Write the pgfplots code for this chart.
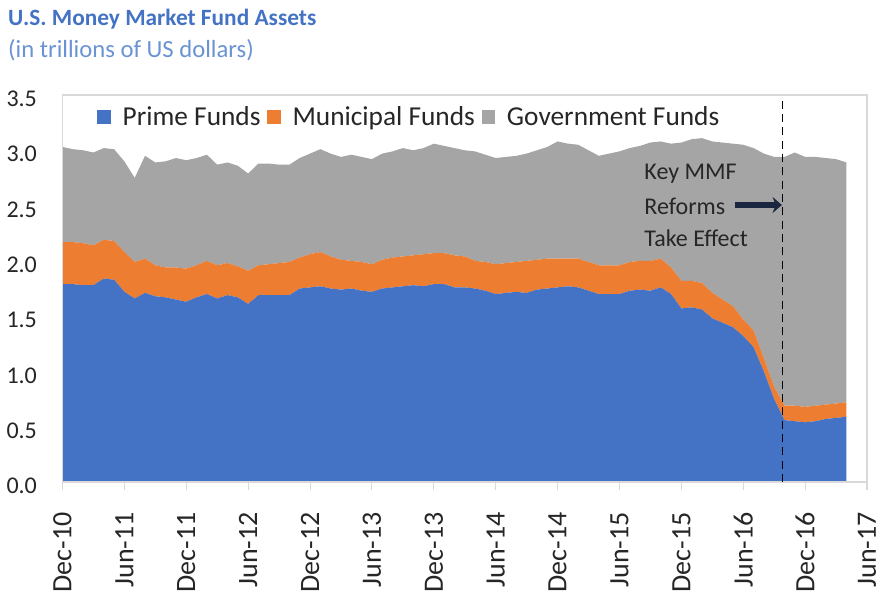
\documentclass[border=0pt]{standalone}
\usepackage{pgfplots}
\pgfplotsset{compat=1.18}
\usetikzlibrary{arrows.meta}
\usepackage{fontspec}
\setmainfont{Carlito}
\definecolor{primeblue}{HTML}{4472C4}
\definecolor{muniorange}{HTML}{ED7D31}
\definecolor{govgray}{HTML}{A5A5A5}
\definecolor{titleblue}{HTML}{4472C4}
\definecolor{subblue}{HTML}{6A93D4}
\definecolor{frame}{HTML}{D9D9D9}
\definecolor{txt}{HTML}{262626}
\definecolor{arrowc}{HTML}{1B2740}
\begin{document}
\begin{tikzpicture}
\path[use as bounding box] (-46.875pt,-84pt) rectangle (613.875pt,361.5pt);
\node[anchor=base west, inner sep=0pt, text=titleblue, font=\bfseries\fontsize{17.5}{20}\selectfont] at (-40.9pt,342pt) {U.S. Money Market Fund Assets};
\node[anchor=base west, inner sep=0pt, text=subblue, font=\fontsize{18.5}{20}\selectfont] at (-40.9pt,318pt) {(in trillions of US dollars)};
\begin{axis}[
  width=603.375pt, height=290.25pt, scale only axis,
  xmin=0, xmax=78, ymin=0, ymax=3.5,
  stack plots=y, area style,
  axis line style={draw=frame, line width=0.8pt},
  xtick={0,6,...,78},
  xticklabels={Dec-10,Jun-11,Dec-11,Jun-12,Dec-12,Jun-13,Dec-13,Jun-14,Dec-14,Jun-15,Dec-15,Jun-16,Dec-16,Jun-17},
  xtick pos=bottom, tick align=outside,
  major tick length=6pt,
  x tick style={draw=frame, line width=0.8pt},
  ytick={0,0.5,...,3.5},
  y tick style={draw=none},
  /pgf/number format/.cd, fixed, fixed zerofill, precision=1, assume math mode=true,
  /pgfplots/.cd,
  yticklabel style={text=txt, inner sep=0pt, anchor=east, xshift=-13pt, yshift=-3pt, font=\fontsize{18}{18}\selectfont},
  xticklabel style={text=txt, inner sep=0pt, rotate=90, anchor=east, xshift=-16.5pt, font=\fontsize{21}{21}\selectfont},
  legend style={at={(rel axis cs:0.043,0.943)}, anchor=west, draw=none, fill=none, inner sep=0pt,
    font=\fontsize{20.5}{21}\selectfont, text=txt,
    /tikz/every odd column/.append style={column sep=7pt},
    /tikz/every even column/.append style={column sep=3pt}},
  legend columns=-1,
  legend image code/.code={\fill[#1] (0pt,-5pt) rectangle (10pt,5pt);},
  clip=false,
]
\addplot[fill=primeblue, draw=none] table[x=m, y=prime] {
m prime
0 1.79
1 1.79
2 1.78
3 1.78
4 1.84
5 1.83
6 1.72
7 1.66
8 1.71
9 1.68
10 1.67
11 1.65
12 1.63
13 1.67
14 1.70
15 1.66
16 1.69
17 1.67
18 1.61
19 1.69
20 1.69
21 1.69
22 1.69
23 1.75
24 1.76
25 1.77
26 1.75
27 1.74
28 1.75
29 1.73
30 1.72
31 1.75
32 1.76
33 1.77
34 1.78
35 1.77
36 1.79
37 1.79
38 1.76
39 1.76
40 1.75
41 1.73
42 1.70
43 1.71
44 1.72
45 1.71
46 1.74
47 1.75
48 1.76
49 1.77
50 1.76
51 1.73
52 1.70
53 1.70
54 1.70
55 1.73
56 1.74
57 1.73
58 1.76
59 1.70
60 1.57
61 1.58
62 1.56
63 1.48
64 1.44
65 1.40
66 1.32
67 1.22
68 1.00
69 0.75
70 0.56
71 0.55
72 0.54
73 0.55
74 0.57
75 0.58
76 0.59
} \closedcycle;
\addlegendentry{Prime Funds}
\addplot[fill=muniorange, draw=none] table[x=m, y=muni] {
m muni
0 0.38
1 0.38
2 0.38
3 0.36
4 0.35
5 0.35
6 0.36
7 0.33
8 0.31
9 0.28
10 0.27
11 0.29
12 0.30
13 0.29
14 0.30
15 0.30
16 0.29
17 0.28
18 0.30
19 0.27
20 0.28
21 0.29
22 0.30
23 0.28
24 0.30
25 0.31
26 0.29
27 0.27
28 0.25
29 0.26
30 0.25
31 0.26
32 0.27
33 0.27
34 0.27
35 0.29
36 0.28
37 0.28
38 0.29
39 0.28
40 0.25
41 0.26
42 0.27
43 0.27
44 0.27
45 0.29
46 0.27
47 0.27
48 0.26
49 0.25
50 0.26
51 0.26
52 0.26
53 0.26
54 0.26
55 0.26
56 0.26
57 0.27
58 0.26
59 0.24
60 0.25
61 0.24
62 0.24
63 0.23
64 0.21
65 0.19
66 0.15
67 0.15
68 0.12
69 0.11
70 0.13
71 0.14
72 0.14
73 0.14
74 0.13
75 0.13
76 0.13
} \closedcycle;
\addlegendentry{Municipal Funds}
\addplot[fill=govgray, draw=none] table[x=m, y=gov] {
m gov
0 0.86
1 0.84
2 0.84
3 0.84
4 0.83
5 0.83
6 0.82
7 0.76
8 0.93
9 0.93
10 0.96
11 0.99
12 0.98
13 0.97
14 0.96
15 0.91
16 0.91
17 0.91
18 0.88
19 0.92
20 0.91
21 0.89
22 0.88
23 0.90
24 0.91
25 0.93
26 0.93
27 0.93
28 0.96
29 0.95
30 0.95
31 0.96
32 0.96
33 0.98
34 0.95
35 0.96
36 0.99
37 0.97
38 0.97
39 0.96
40 0.99
41 0.97
42 0.96
43 0.96
44 0.96
45 0.97
46 0.99
47 1.01
48 1.06
49 1.04
50 1.03
51 1.01
52 0.99
53 1.01
54 1.03
55 1.03
56 1.04
57 1.07
58 1.06
59 1.12
60 1.25
61 1.28
62 1.31
63 1.37
64 1.42
65 1.47
66 1.58
67 1.65
68 1.85
69 2.08
70 2.25
71 2.29
72 2.26
73 2.25
74 2.23
75 2.21
76 2.17
} \closedcycle;
\addlegendentry{Government Funds}
\coordinate (dl0) at (axis cs:69.8,0);
\coordinate (dl1) at (axis cs:69.8,3.47);
\coordinate (t1) at (axis cs:56.4,2.79);
\coordinate (t2) at (axis cs:56.4,2.49);
\coordinate (t3) at (axis cs:56.4,2.20);
\coordinate (a0) at (axis cs:65.2,2.505);
\coordinate (a1) at (axis cs:69.75,2.505);
\end{axis}
\draw[black, line width=1.1pt, dash pattern=on 6pt off 4pt] (dl0) -- (dl1);
\node[anchor=west, inner sep=0pt, text=txt, font=\fontsize{18}{18}\selectfont] at (t1) {Key MMF};
\node[anchor=west, inner sep=0pt, text=txt, font=\fontsize{18}{18}\selectfont] at (t2) {Reforms};
\node[anchor=west, inner sep=0pt, text=txt, font=\fontsize{18}{18}\selectfont] at (t3) {Take Effect};
\draw[arrowc, line width=5pt, -{Stealth[length=7pt,width=12pt]}] (a0) -- (a1);
\end{tikzpicture}
\end{document}
